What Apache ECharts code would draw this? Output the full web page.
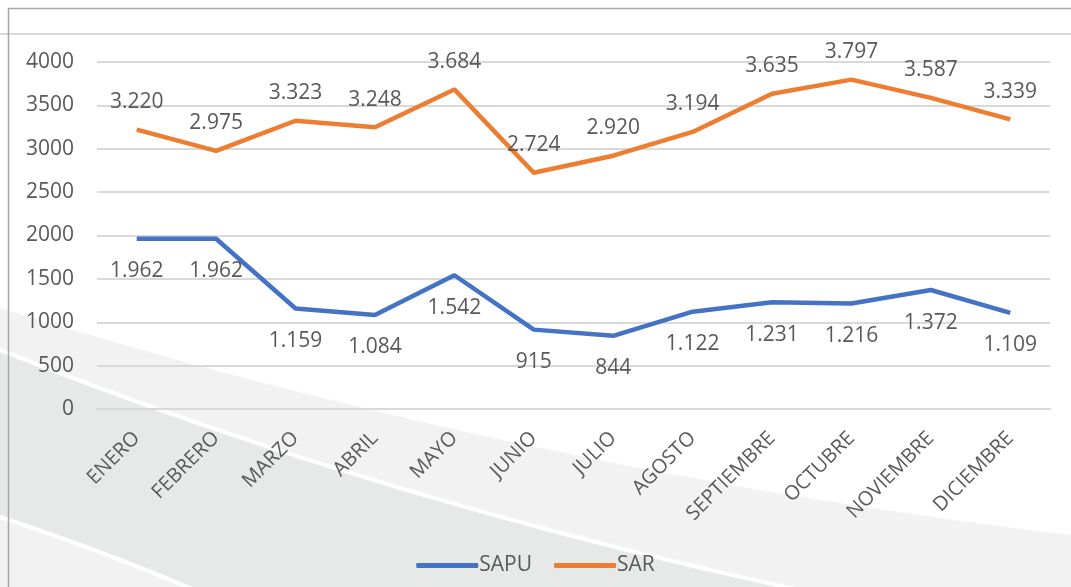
<!DOCTYPE html>
<html>
<head>
<meta charset="utf-8">
<script src="https://cdn.jsdelivr.net/npm/echarts@6/dist/echarts.min.js"></script>
<style>
  html, body { margin: 0; padding: 0; background: #fff; }
  #chart { width: 1071px; height: 587px; }
</style>
</head>
<body>
<div id="chart"></div>
<script>
// meses
const meses = ["ENERO", "FEBRERO", "MARZO", "ABRIL", "MAYO", "JUNIO", "JULIO",
  "AGOSTO", "SEPTIEMBRE", "OCTUBRE", "NOVIEMBRE", "DICIEMBRE"];
const sapu = [1962, 1962, 1159, 1084, 1542, 915, 844, 1122, 1231, 1216, 1372, 1109];
const sar = [3220, 2975, 3323, 3248, 3684, 2724, 2920, 3194, 3635, 3797, 3587, 3339];
const yTicks = [0, 500, 1000, 1500, 2000, 2500, 3000, 3500, 4000];

const txt = "#595959";
const font = "'Open Sans', 'DejaVu Sans', sans-serif";

// 1962 -> "1.962"
function miles(v) {
  return String(v).replace(/\B(?=(\d{3})+(?!\d))/g, ".");
}

// puntos de una curva cuadratica (solo para el fondo)
function curva(p0, c, p2) {
  const pts = [];
  for (let i = 0; i <= 40; i++) {
    const t = i / 40, u = 1 - t;
    pts.push([
      u * u * p0[0] + 2 * u * t * c[0] + t * t * p2[0],
      u * u * p0[1] + 2 * u * t * c[1] + t * t * p2[1],
    ]);
  }
  return pts;
}

const bordeA = curva([0, 308], [524, 470], [1071, 535]);
const blanca1 = curva([0, 350], [380, 500], [800, 590]);
const blanca2 = curva([0, 517], [100, 550], [195, 590]);

const myChart = echarts.init(document.getElementById("chart"));

const option = {
  backgroundColor: "#ffffff",
  textStyle: { fontFamily: font },
  // fondo decorativo
  graphic: [
    {
      type: "polygon", z: -10, silent: true,
      shape: { points: bordeA.concat([[1071, 590], [0, 590]]) },
      style: { fill: "#f2f2f2" },
    },
    {
      type: "polygon", z: -9, silent: true,
      shape: { points: blanca1.concat([[0, 592]]) },
      style: { fill: "#e7e8e8" },
    },
    {
      type: "polygon", z: -8, silent: true,
      shape: { points: blanca2.concat([[0, 592]]) },
      style: { fill: "#f2f2f2" },
    },
    {
      type: "polyline", z: -7, silent: true,
      shape: { points: blanca1 },
      style: { stroke: "#ffffff", lineWidth: 4 },
    },
    {
      type: "polyline", z: -7, silent: true,
      shape: { points: blanca2 },
      style: { stroke: "#ffffff", lineWidth: 4 },
    },
    {
      type: "line", z: -6, silent: true,
      shape: { x1: 0, y1: 34, x2: 1071, y2: 34 },
      style: { stroke: "#d9d9d9", lineWidth: 2 },
    },
    {
      type: "polyline", z: -6, silent: true,
      shape: { points: [[8.5, 587], [8.5, 8.5], [1071, 8.5]] },
      style: { stroke: "#a6a6a6", lineWidth: 1.5 },
    },
  ],
  grid: {
    left: 97,
    right: 21,
    top: 62,
    bottom: 178,
  },
  legend: {
    bottom: 6,
    left: "center",
    icon: "roundRect",
    itemWidth: 62,
    itemHeight: 5,
    itemGap: 22,
    textStyle: { color: txt, fontSize: 21, fontFamily: font, padding: [0, 0, 0, -4] },
    data: ["SAPU", "SAR"],
  },
  xAxis: {
    type: "category",
    data: meses,
    boundaryGap: true,
    axisLine: { show: true, lineStyle: { color: "#d9d9d9", width: 2 } },
    axisTick: { show: false },
    axisLabel: {
      color: txt,
      fontSize: 20,
      rotate: 45,
      interval: 0,
      margin: 26,
    },
    splitLine: { show: false },
  },
  yAxis: {
    type: "value",
    min: yTicks[0],
    max: yTicks[yTicks.length - 1],
    interval: 500,
    axisLine: { show: false },
    axisTick: { show: false },
    axisLabel: { color: txt, fontSize: 21, margin: 23, formatter: (v) => String(v) },
    splitLine: { show: true, lineStyle: { color: "#d9d9d9", width: 2 } },
  },
  series: [
    {
      name: "SAPU",
      type: "line",
      data: sapu,
      showSymbol: true,
      symbol: "circle",
      symbolSize: 0.1,
      lineStyle: { color: "#4472c4", width: 4.5 },
      itemStyle: { color: "#4472c4" },
      label: {
        show: true,
        position: "bottom",
        distance: 22,
        color: txt,
        fontSize: 21,
        formatter: (p) => miles(p.value),
      },
    },
    {
      name: "SAR",
      type: "line",
      data: sar,
      showSymbol: true,
      symbol: "circle",
      symbolSize: 0.1,
      lineStyle: { color: "#ed7d31", width: 4.5 },
      itemStyle: { color: "#ed7d31" },
      label: {
        show: true,
        position: "top",
        distance: 17,
        color: txt,
        fontSize: 21,
        formatter: (p) => miles(p.value),
      },
    },
  ],
};

myChart.setOption(option);
</script>
</body>
</html>
